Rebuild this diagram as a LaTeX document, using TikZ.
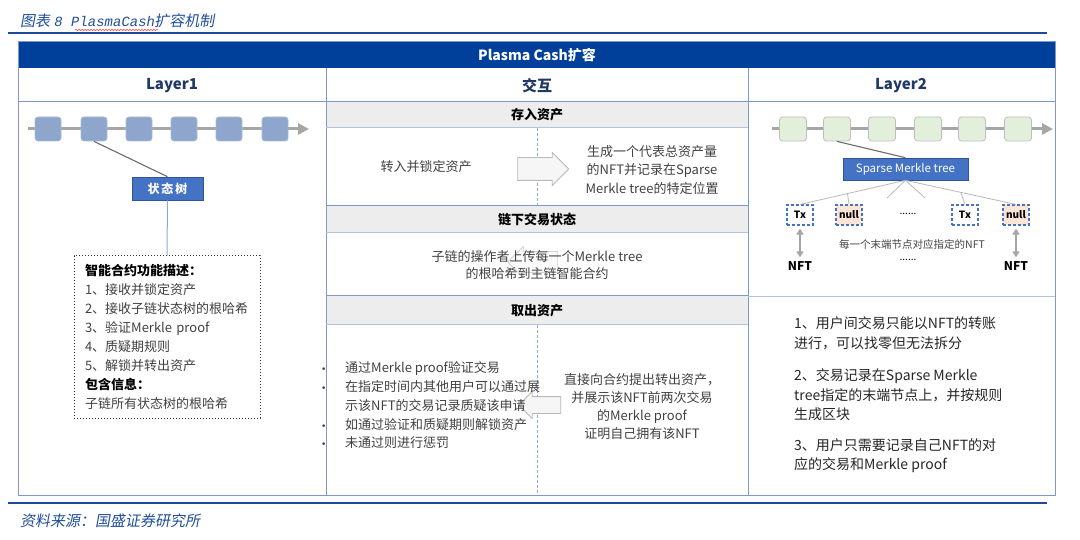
\documentclass[tikz,border=0pt]{standalone}
\usepackage{fontspec}
\setmainfont{Noto Sans CJK SC}
\newfontfamily\kaislant[FakeSlant=0.18]{Noto Sans CJK SC}
\newfontfamily\monoslant[FakeSlant=0.18]{Liberation Mono}
\newfontfamily\dejavu{DejaVu Sans}
\usetikzlibrary{arrows.meta,shapes.arrows,decorations.pathmorphing,calc}
\definecolor{navy}{HTML}{00409A}
\definecolor{rulec}{HTML}{1B4A9C}
\definecolor{gridc}{HTML}{7F98CA}
\definecolor{gridl}{HTML}{B4C2DE}
\definecolor{hdrtext}{HTML}{1F3864}
\definecolor{graybar}{HTML}{EDEDED}
\definecolor{bodytext}{HTML}{404040}
\definecolor{blkblue}{HTML}{8FA6CC}
\definecolor{blkblueb}{HTML}{A9B9D8}
\definecolor{blkgreen}{HTML}{E2EFDA}
\definecolor{blkgreenb}{HTML}{BFBFBF}
\definecolor{boxblue}{HTML}{4472C4}
\definecolor{boxblueb}{HTML}{2F5597}
\definecolor{peach}{HTML}{FBE5D6}
\definecolor{titleblue}{HTML}{1F4E9A}
\definecolor{chaingray}{HTML}{A6A6A6}
\definecolor{dashblue}{HTML}{8EA9DB}
\tikzset{
  hdr/.style={font=\fontsize{15}{18}\selectfont\bfseries, text=hdrtext, inner sep=0pt},
  sec/.style={font=\fontsize{13}{16}\selectfont\bfseries, text=black, inner sep=0pt},
  body/.style={font=\fontsize{13}{18.5}\selectfont, text=bodytext, align=center, inner sep=0pt},
  caption/.style={text=titleblue, inner sep=0pt, anchor=west},
  blkone/.style={draw=blkblueb, fill=blkblue, rounded corners=3pt, minimum width=26pt, minimum height=24pt, inner sep=0pt, line width=0.8pt},
  blktwo/.style={draw=blkgreenb, fill=blkgreen, rounded corners=3pt, minimum width=27pt, minimum height=24pt, inner sep=0pt, line width=0.8pt},
  chainline/.style={draw=chaingray, line width=3pt, -{Triangle[length=11pt,width=11pt]}},
  bluebox/.style={draw=boxblueb, fill=boxblue, text=white, inner sep=0pt, line width=0.6pt},
  leaf/.style={draw=boxblue, dashed, dash pattern=on 3pt off 2pt, line width=1.1pt, minimum width=26pt, minimum height=20pt, inner sep=0pt, font=\fontsize{10}{12}\selectfont\bfseries},
  fan/.style={draw=chaingray!80, line width=0.8pt},
  fatarrow/.style={single arrow, draw=gray!55, fill=gray!7, inner xsep=0pt, single arrow head extend=5pt, single arrow head indent=0pt, line width=0.8pt},
  dashv/.style={draw=dashblue, dashed, dash pattern=on 3pt off 2pt, line width=0.8pt}
}
\newcommand{\bulletmark}{\makebox[24pt][l]{\dejavu\fontsize{9}{10}\selectfont •}}
\begin{document}
\begin{tikzpicture}[x=1pt,y=-1pt]
\useasboundingbox (0,0) rectangle (1080,540);

% caption and rules
\node[caption] (title) at (20,21) {\kaislant\fontsize{15}{18}\selectfont 图表 \monoslant\fontsize{14}{18}\selectfont 8 PlasmaCash\kaislant\fontsize{15}{18}\selectfont 扩容机制};
\coordinate (w1) at (75,30);
\coordinate (w2) at (158,30);
\draw[red!75, line width=0.5pt, decorate, decoration={snake, amplitude=0.7pt, segment length=3pt}] (w1) -- (w2);
\coordinate (r1a) at (8,33); \coordinate (r1b) at (1047,33);
\draw[rulec, line width=2pt] (r1a) -- (r1b);
\coordinate (r2a) at (8,503); \coordinate (r2b) at (1047,503);
\draw[rulec, line width=2pt] (r2a) -- (r2b);
\node[caption] (source) at (20,521) {\kaislant\fontsize{15}{18}\selectfont 资料来源：国盛证券研究所};

% table frame
\fill[navy] (18,42) rectangle (1055,68);
\fill[graybar] (326,102) rectangle (748,128);
\fill[graybar] (326,206) rectangle (748,233);
\fill[graybar] (326,296) rectangle (748,325);
\draw[gridc, line width=1pt] (18,42) rectangle (1055,495);
\draw[gridc, line width=1pt] (18,102) -- (1055,102);
\draw[gridc, line width=1pt] (326,68) -- (326,495);
\draw[gridc, line width=1pt] (748,68) -- (748,495);
\draw[gridl, line width=1pt] (326,128) -- (748,128);
\draw[gridc, line width=1pt] (326,206) -- (748,206);
\draw[gridl, line width=1pt] (326,233) -- (748,233);
\draw[gridc, line width=1pt] (326,296) -- (748,296);
\draw[gridl, line width=1pt] (326,325) -- (748,325);
\draw[gridl, line width=1pt] (748,297) -- (1055,297);
\draw[dashv] (537,128) -- (537,206);
\draw[dashv] (537,325) -- (537,495);

% headers
\node[font=\fontsize{14}{17}\selectfont\bfseries, text=white, inner sep=0pt] (main) at (537,55) {Plasma Cash扩容};
\node[hdr] (h1) at (172,86) {Layer1};
\node[hdr] (h2) at (537,86) {交互};
\node[hdr] (h3) at (901,86) {Layer2};
\node[sec] (s1) at (537,115) {存入资产};
\node[sec] (s2) at (537,220) {链下交易状态};
\node[sec] (s3) at (537,311) {取出资产};

% Layer1
\coordinate (c1s) at (28,129); \coordinate (c1e) at (309,129);
\draw[chainline] (c1s) -- (c1e);
\foreach \i/\xx in {1/48,2/94,3/139,4/184,5/229,6/275} {
  \node[blkone] (a\i) at (\xx,129) {};
}
\node[bluebox, minimum width=71pt, minimum height=23pt, font=\fontsize{12}{14}\selectfont\bfseries] (st) at (167.5,188.5) {状\,态\,树};
\draw[gray!85!black, line width=1.1pt] (a2.south) -- (st.north);
\node[draw=black!80, dotted, line width=1pt, minimum width=186pt, minimum height=162pt, text width=164pt, align=left, inner xsep=11pt, inner ysep=0pt, font=\fontsize{13}{19}\selectfont, text=bodytext] (desc) at (167,337) {%
{\bfseries\color{black}智能合约功能描述：}\\
1、接收并锁定资产\\
2、接收子链状态树的根哈希\\
3、验证Merkle proof\\
4、质疑期规则\\
5、解锁并转出资产\\
{\bfseries\color{black}包含信息：}\\
子链所有状态树的根哈希};
\draw[dashblue, line width=1pt] (st.south) -- (desc.north);

% Interaction column
\node[fatarrow, minimum height=51pt, inner ysep=11pt] (ar1) at (537.5,169) {};
\node[body] (t1) at (426,167) {转入并锁定资产};
\node[body] (t2) at (652,170) {生成一个代表总资产量\\的NFT并记录在Sparse\\Merkle tree的特定位置};

\node[fatarrow, minimum height=50pt, inner ysep=10pt, shape border rotate=180, draw=gray!35, fill=gray!4] (ar2) at (538,262) {};
\node[body, font=\fontsize{13}{17}\selectfont] (t3) at (537,265) {子链的操作者上传每一个Merkle tree\\的根哈希到主链智能合约};

\node[fatarrow, minimum height=42pt, inner ysep=8pt, shape border rotate=180] (ar3) at (544,405) {};
\node[body, align=left, anchor=west, font=\fontsize{13}{18.75}\selectfont] (t4) at (321,405.5) {%
\bulletmark 通过Merkle proof验证交易\\
\bulletmark 在指定时间内其他用户可以通过展\\
\hspace*{24pt}示该NFT的交易记录质疑该申请\\
\bulletmark 如通过验证和质疑期则解锁资产\\
\bulletmark 未通过则进行惩罚};
\node[body, font=\fontsize{13}{18}\selectfont] (t5) at (642,407) {直接向合约提出转出资产，\\并展示该NFT前两次交易\\的Merkle proof\\证明自己拥有该NFT};

% Layer2
\coordinate (c2s) at (772,129); \coordinate (c2e) at (1053,129);
\draw[chainline] (c2s) -- (c2e);
\foreach \i/\xx in {1/793,2/837,3/882,4/928,5/972,6/1018} {
  \node[blktwo] (b\i) at (\xx,129) {};
}
\node[bluebox, minimum width=125pt, minimum height=22pt, font=\fontsize{11.5}{14}\selectfont] (smt) at (905.5,169) {Sparse Merkle tree};
\draw[gray!85!black, line width=1.1pt] (b2.south) -- (smt.north);

\node[leaf, fill=white] (tx1) at (800,215) {Tx};
\node[leaf, fill=peach] (n1) at (849,215) {null};
\node[inner sep=0pt, font=\fontsize{10}{12}\selectfont] (dots1) at (908,214) {......};
\node[leaf, fill=white] (tx2) at (965,215) {Tx};
\node[leaf, fill=peach] (n2) at (1016,215) {null};

\draw[fan] (smt.south) -- (tx1.north);
\draw[fan] (smt.south) -- (n2.north);
\draw[fan] ($(smt.south)!0.55!(tx1.north)$) -- (n1.north);
\draw[fan] ($(smt.south)!0.5!(n2.north)$) -- (tx2.north);
\coordinate (f1) at (887,198); \coordinate (f2) at (925,198);
\draw[fan] (smt.south) -- (f1);
\draw[fan] (smt.south) -- (f2);

\node[inner sep=0pt, font=\fontsize{12}{14}\selectfont\bfseries] (nft1) at (800,266) {NFT};
\node[inner sep=0pt, font=\fontsize{12}{14}\selectfont\bfseries] (nft2) at (1016,266) {NFT};
\draw[chaingray, line width=1.6pt, {Triangle[length=6pt,width=7pt]}-{Triangle[length=6pt,width=7pt]}, shorten <=3pt, shorten >=4pt] (tx1.south) -- (nft1.north);
\draw[chaingray, line width=1.6pt, {Triangle[length=6pt,width=7pt]}-{Triangle[length=6pt,width=7pt]}, shorten <=3pt, shorten >=4pt] (n2.south) -- (nft2.north);
\node[inner sep=0pt, font=\fontsize{10.5}{12}\selectfont, text=bodytext] (note) at (912,245) {每一个末端节点对应指定的NFT};
\node[inner sep=0pt, font=\fontsize{10}{12}\selectfont] (dots2) at (908,260) {......};

\node[body, align=left, anchor=west, text=black!85, font=\fontsize{14}{19.5}\selectfont] (t6) at (794,395) {%
1、用户间交易只能以NFT的转账\\
进行，可以找零但无法拆分\\[13pt]
2、交易记录在Sparse Merkle\\
tree指定的末端节点上，并按规则\\
生成区块\\[11pt]
3、用户只需要记录自己NFT的对\\
应的交易和Merkle proof};
\end{tikzpicture}
\end{document}
